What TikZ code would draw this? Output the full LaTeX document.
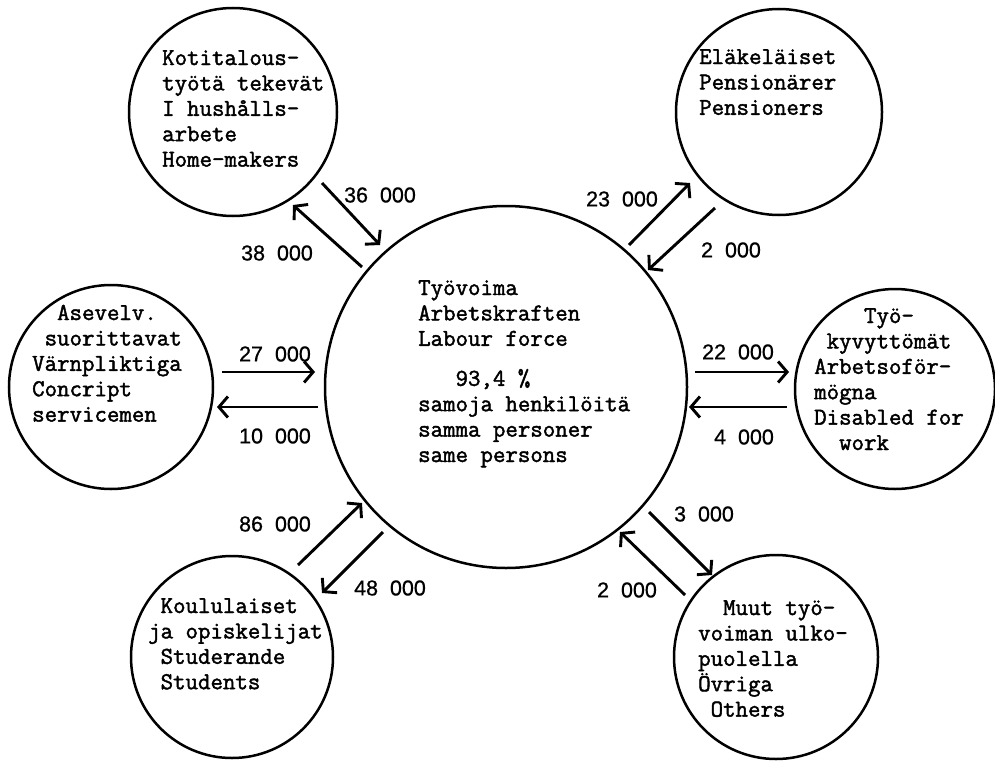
\documentclass[tikz,border=0pt]{standalone}
\usepackage{fontspec}
\usetikzlibrary{arrows.meta}
\newfontfamily\twfont{Latin Modern Mono}[FakeBold=1.8]
\newfontfamily\numfont{Liberation Sans}[FakeBold=0.8]
\newcommand{\fsp}{\hspace{0.556em}}
\newcommand{\txt}[1]{\parbox[t]{10cm}{\raggedright #1}}
\tikzset{
  ring/.style={circle, draw, line width=2.5pt, inner sep=0pt},
  flow/.style={line width=2.9pt, -{Straight Barb[length=9pt,width=21pt]}},
  lbl/.style={inner sep=0pt, anchor=base west, font=\twfont\fontsize{24.2}{25.4}\selectfont},
  num/.style={inner sep=0pt, font=\numfont\fontsize{21.5}{24}\selectfont},
}
\begin{document}
\begin{tikzpicture}[x=1pt,y=-1pt]
\useasboundingbox (0,0) rectangle (995,760);
% circles
\node[ring, minimum size=208pt] (home) at (233,112) {};
\node[ring, minimum size=206pt] (pens) at (779,112) {};
\node[ring, minimum size=362pt] (lab)  at (506,387) {};
\node[ring, minimum size=204pt] (cons) at (111,387) {};
\node[ring, minimum size=200pt] (dis)  at (895,389) {};
\node[ring, minimum size=202pt] (stud) at (232,657) {};
\node[ring, minimum size=204pt] (oth)  at (776,657) {};
% texts
\node[lbl] (t-home) at (162,65) {\txt{Kotitalous-\\työtä tekevät\\I hushålls-\\arbete\\Home-makers}};
\node[lbl] (t-pens) at (699,64) {\txt{Eläkeläiset\\Pensionärer\\Pensioners}};
\node[lbl] (t-lab) at (418,295) {\txt{Työvoima\\Arbetskraften\\Labour force\\[14.6pt]~~~93,4~\%\\samoja henkilöitä\\samma personer\\same persons}};
\node[lbl] (t-cons) at (32,320) {\txt{~~Asevelv.\\~suorittavat\\Värnpliktiga\\Concript\\servicemen}};
\node[lbl] (t-dis) at (814,323) {\txt{~~~~Työ-\\~kyvyttömät\\Arbetsoför-\\mögna\\Disabled for\\~~work}};
\node[lbl] (t-stud) at (148,613) {\txt{~Koululaiset\\ja opiskelijat\\~Studerande\\~Students}};
\node[lbl] (t-oth) at (698,615) {\txt{~~Muut työ-\\voiman ulko-\\puolella\\Övriga\\~Others}};
% arrow end points
\coordinate (h1a) at (322,183); \coordinate (h1b) at (380,245);
\coordinate (h2a) at (362,267); \coordinate (h2b) at (293,205);
\coordinate (p1a) at (629,245); \coordinate (p1b) at (690,183);
\coordinate (p2a) at (715,208); \coordinate (p2b) at (648,270);
\coordinate (c1a) at (222,372); \coordinate (c1b) at (315,372);
\coordinate (c2a) at (318,407); \coordinate (c2b) at (217,407);
\coordinate (d1a) at (695,372); \coordinate (d1b) at (789,372);
\coordinate (d2a) at (787,407); \coordinate (d2b) at (689,407);
\coordinate (s1a) at (298,565); \coordinate (s1b) at (362,503);
\coordinate (s2a) at (383,532); \coordinate (s2b) at (322,593);
\coordinate (o1a) at (649,512); \coordinate (o1b) at (712,575);
\coordinate (o2a) at (685,595); \coordinate (o2b) at (620,532);
% arrows
\draw[flow] (h1a) -- (h1b);
\draw[flow] (h2a) -- (h2b);
\draw[flow] (p1a) -- (p1b);
\draw[flow] (p2a) -- (p2b);
\draw[flow] (c1a) -- (c1b);
\draw[flow] (c2a) -- (c2b);
\draw[flow] (d1a) -- (d1b);
\draw[flow] (d2a) -- (d2b);
\draw[flow] (s1a) -- (s1b);
\draw[flow] (s2a) -- (s2b);
\draw[flow] (o1a) -- (o1b);
\draw[flow] (o2a) -- (o2b);
% numbers
\node[num] (n-h1) at (380,195) {36\fsp000};
\node[num] (n-h2) at (277,253) {38\fsp000};
\node[num] (n-p1) at (622,199) {23\fsp000};
\node[num] (n-p2) at (731,250) {2\fsp000};
\node[num] (n-c1) at (275,354) {27\fsp000};
\node[num] (n-c2) at (275,436) {10\fsp000};
\node[num] (n-d1) at (738,352) {22\fsp000};
\node[num] (n-d2) at (744,437) {4\fsp000};
\node[num] (n-s1) at (275,524) {86\fsp000};
\node[num] (n-s2) at (390,588) {48\fsp000};
\node[num] (n-o1) at (704,514) {3\fsp000};
\node[num] (n-o2) at (627,590) {2\fsp000};
\end{tikzpicture}
\end{document}
